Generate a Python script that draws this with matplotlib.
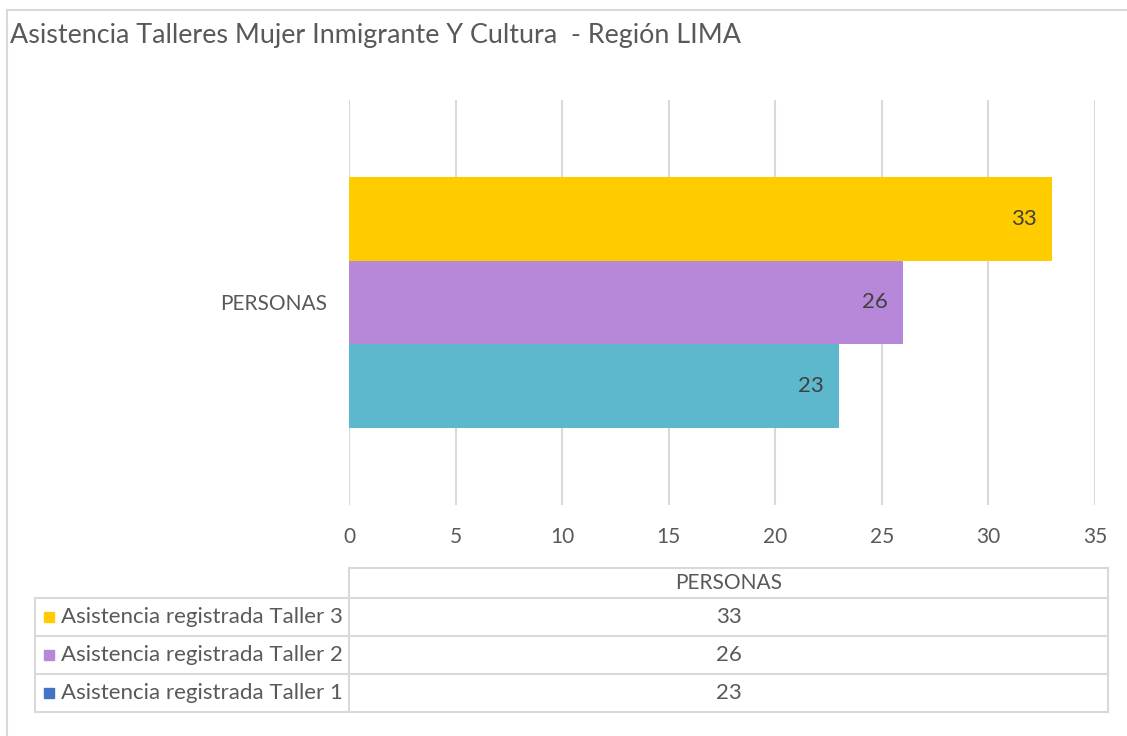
import matplotlib.pyplot as plt
from matplotlib.patches import Rectangle

plt.rcParams['font.family'] = ['Lato', 'DejaVu Sans']

# data
title = "Asistencia Talleres Mujer Inmigrante Y Cultura  - Región LIMA"
category = ["PERSONAS"]
series = ["Asistencia registrada Taller 1", "Asistencia registrada Taller 2",
          "Asistencia registrada Taller 3"]
values = [23, 26, 33]
bar_colors = ["#5DB8CE", "#B788DA", "#FFCC00"]
key_colors = ["#4472C4", "#B788DA", "#FFCC00"]
xticks = [0, 5, 10, 15, 20, 25, 30, 35]

W, H = 1127, 736
TXT = "#595959"
GRID = "#D9D9D9"

fig = plt.figure(figsize=(W / 100, H / 100), dpi=100)

# background layer in pixel coordinates (border + data table)
bg = fig.add_axes([0, 0, 1, 1], zorder=0)
bg.set_xlim(0, W)
bg.set_ylim(H, 0)
bg.axis('off')

# chart border
bg.plot([7, W], [10, 10], color=GRID, lw=1.5)
bg.plot([7, 7], [10, H], color=GRID, lw=1.5)

bg.text(10, 36, title, fontsize=19.4, color=TXT, va='center', ha='left')

# main axes
x0, x1, y0, y1 = 349, 1095, 100, 505
ax = fig.add_axes([x0 / W, 1 - y1 / H, (x1 - x0) / W, (y1 - y0) / H], zorder=1)
ax.patch.set_alpha(0)

offsets = [-0.207, 0.0, 0.207]
for v, off, c in zip(values, offsets, bar_colors):
    ax.barh(off, v, height=0.207, color=c, zorder=2)
    ax.annotate(str(v), (v, off), xytext=(-11, 0), textcoords='offset points',
                ha='right', va='center', fontsize=16, color="#404040", zorder=3)

ax.set_xlim(0, 35)
ax.set_ylim(-0.5, 0.5)
ax.set_xticks(xticks)
ax.set_xticklabels([str(t) for t in xticks], fontsize=15, color=TXT)
ax.set_yticks([0])
ax.set_yticklabels(category, fontsize=15, color=TXT)
ax.tick_params(axis='both', length=0)
ax.tick_params(axis='x', pad=16)
ax.tick_params(axis='y', pad=16)
ax.grid(axis='x', color=GRID, lw=1.5, zorder=0)
ax.set_axisbelow(True)
for s in ax.spines.values():
    s.set_visible(False)

# data table
tl, tm, tr = 35, 349, 1108
hy0, hy1 = 568, 598
rows_y = [598, 636, 674, 712]
lw = 1.5
bg.plot([tm, tr], [hy0, hy0], color=GRID, lw=lw)
for y in rows_y:
    bg.plot([tl, tr], [y, y], color=GRID, lw=lw)
bg.plot([tl, tl], [rows_y[0], rows_y[-1]], color=GRID, lw=lw)
bg.plot([tm, tm], [hy0, rows_y[-1]], color=GRID, lw=lw)
bg.plot([tr, tr], [hy0, rows_y[-1]], color=GRID, lw=lw)

cx = (tm + tr) / 2
bg.text(cx, (hy0 + hy1) / 2, category[0], fontsize=15, color=TXT,
        ha='center', va='center')

# rows listed top to bottom: Taller 3, 2, 1
for i, idx in enumerate([2, 1, 0]):
    yc = (rows_y[i] + rows_y[i + 1]) / 2
    bg.add_patch(Rectangle((44, yc - 5), 10, 10, color=key_colors[idx]))
    bg.text(61, yc, series[idx], fontsize=16, color=TXT, ha='left', va='center')
    bg.text(cx, yc, str(values[idx]), fontsize=16, color=TXT, ha='center', va='center')

fig.savefig("out.png", dpi=100)
